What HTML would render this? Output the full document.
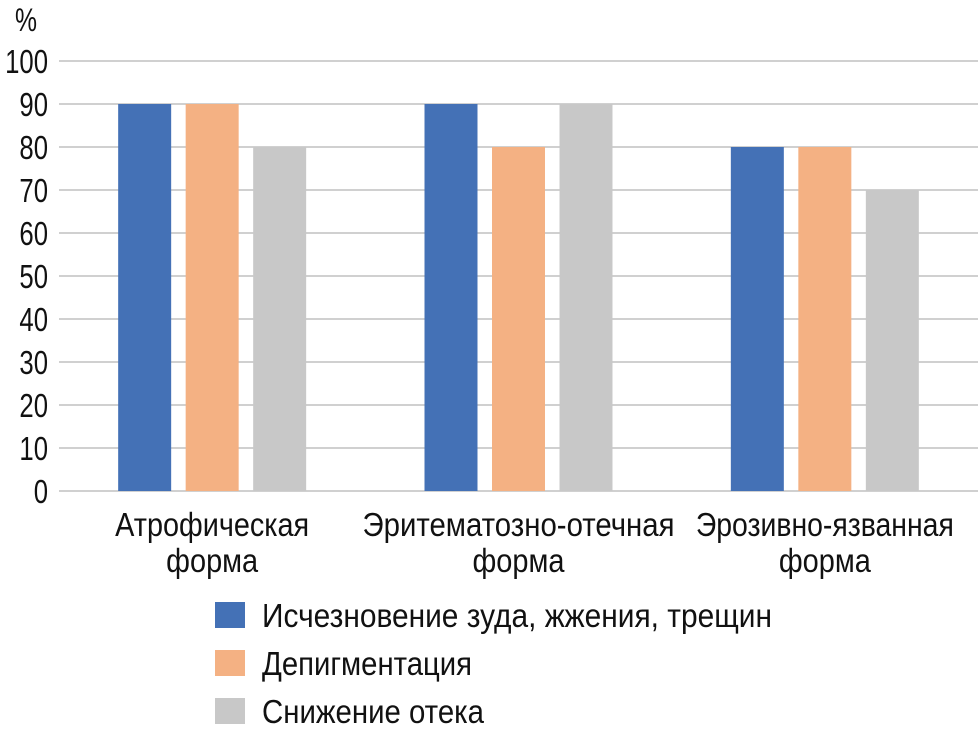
<!DOCTYPE html>
<html><head><meta charset="utf-8"><style>
html,body{margin:0;padding:0;background:#fff;width:978px;height:734px;overflow:hidden}
svg text{font-family:"Liberation Sans Narrow","Liberation Sans",sans-serif;fill:#111}
</style></head><body>
<svg id="chart" width="978" height="734" xmlns="http://www.w3.org/2000/svg">
<text x="26" y="31" font-size="32" text-anchor="middle" textLength="22" lengthAdjust="spacingAndGlyphs">%</text>
<g id="grid"></g><g id="bars"></g><g id="xlabels"></g><g id="legend"></g>
</svg>
<script>
const categories=[["Атрофическая","форма"],["Эритематозно-отечная","форма"],["Эрозивно-язванная","форма"]];
const seriesNames=["Исчезновение зуда, жжения, трещин","Депигментация","Снижение отека"];
const itching=[90,90,80];
const depigment=[90,80,80];
const swelling=[80,90,70];
const yTicks=[0,10,20,30,40,50,60,70,80,90,100];
const colors=["#4471b6","#f4b183","#c8c8c8"];
const series=[itching,depigment,swelling];
const NS="http://www.w3.org/2000/svg";
const x0=59,x1=978,yBase=491,yTop=61;
const y=v=>yBase-(v/100)*(yBase-yTop);
const groupW=(x1-x0)/categories.length;
const cx=i=>x0+groupW*(i+0.5);
function mk(tag,attrs,parent){const e=document.createElementNS(NS,tag);for(const k in attrs)e.setAttribute(k,attrs[k]);parent.appendChild(e);return e;}
const grid=document.getElementById('grid');
yTicks.forEach(t=>{
 const l=mk('line',{x1:x0,x2:x1,y1:y(t),y2:y(t),stroke:'#d0d0d0','stroke-width':2},grid);
 
 
 const s=String(t);
 const tx=mk('text',{x:48,y:y(t)+12,'font-size':33,'text-anchor':'end',textLength:s.length*14.3,lengthAdjust:'spacingAndGlyphs'},grid);
 tx.textContent=s;
 
 
});
const bars=document.getElementById('bars');
const bw=53,step=67.5;
categories.forEach((c,i)=>{
 series.forEach((s,j)=>{
  const bx=cx(i)+(j-1)*step-bw/2;
  const r=mk('rect',{x:bx,y:y(s[i]),width:bw,height:yBase-y(s[i]),fill:colors[j]},bars);
  
  
 });
 const xl=document.getElementById('xlabels');
 const w=[194,312,258];
 c.forEach((line,k)=>{
  const t=mk('text',{x:cx(i),y:536+k*36,'font-size':33,'text-anchor':'middle',textLength:k===0?w[i]:92,lengthAdjust:'spacingAndGlyphs'},xl);
  t.textContent=line;
  
  
 });
});
const lg=document.getElementById('legend');
const lw=[510,210,222];
seriesNames.forEach((n,j)=>{
 const r=mk('rect',{x:215,y:602+j*48,width:30,height:26,fill:colors[j]},lg);
 
 
 const t=mk('text',{x:262,y:627+j*48,'font-size':33,textLength:lw[j],lengthAdjust:'spacingAndGlyphs'},lg);
 t.textContent=n;
 
 
});
</script>
</body></html>
